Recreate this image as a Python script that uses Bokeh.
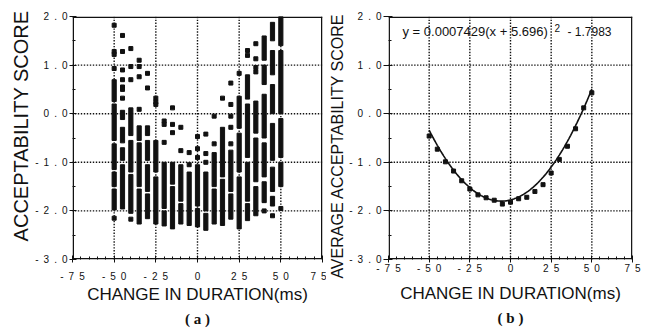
import numpy as np
from bokeh.plotting import figure
from bokeh.layouts import row
from bokeh.models import Range1d, SingleIntervalTicker, FixedTicker, LinearAxis, Label
from bokeh.embed import file_html
from bokeh.resources import INLINE

# ---------------- axes ----------------
x_lim = (-75, 75)
y_lim = (-3, 2)
x_grid = [-50, -25, 0, 25, 50]
y_grid = [-2, -1, 0, 1]

# ---------------- data (a): individual acceptability scores ----------------
# isolated points
pts_x = ([-50]*5 + [-45]*7 + [-40]*4 + [-35]*4 + [-30]*2 + [-25]*3 + [-20]*3 + [-15]*3 +
         [-10]*2 + [-5]*2 + [0]*3 + [5]*3 + [10]*2 + [15]*1 + [20]*5 + [25]*1 + [30]*2 +
         [35]*4 + [40]*1 + [45]*1 + [50]*1)
pts_y = ([1.82, 1.28, 1.22, 0.93, -2.15] +
         [1.61, 1.28, 0.90, 0.70, 0.55, 0.50, 0.32] +
         [1.34, 0.97, 0.70, -2.17] +
         [1.10, 0.97, 0.76, 0.09] +
         [0.83, 0.53] +
         [0.32, 0.24, 0.19] +
         [-0.15, -0.22, -0.59] +
         [0.12, -0.22, -0.39] +
         [-0.28, -0.76] +
         [-0.80, -1.05] +
         [-0.47, -0.72, -0.90] +
         [-0.42, -0.82, -1.00] +
         [-0.05, -0.62] +
         [0.32] +
         [0.63, 0.19, -0.05, -0.28, -0.62] +
         [0.83] +
         [1.30, 1.20] +
         [1.44, 1.13, 0.95, 0.86] +
         [-2.00] +
         [-2.10] +
         [-1.95])
# dense stacks of points (runs of scores)
run_x = ([-50]*5 + [-45]*4 + [-40]*3 + [-35]*3 + [-30]*4 + [-25]*2 + [-20]*2 + [-15]*2 +
         [-10]*2 + [-5]*1 + [0]*2 + [5]*2 + [10]*2 + [15]*2 + [20]*2 + [25]*3 + [30]*4 +
         [35]*3 + [40]*5 + [45]*6 + [50]*4)
run_top = ([0.70, 0.20, -0.62, -1.20, -1.55] +
           [0.07, -0.28, -0.70, -1.05] +
           [0.12, -0.55, -1.25] +
           [-0.25, -0.60, -1.55] +
           [-0.25, -0.55, -1.05, -1.65] +
           [-0.55, -1.30] +
           [-1.00, -2.00] +
           [-1.00, -1.50] +
           [-1.05, -1.85] +
           [-1.20] +
           [-1.05, -1.95] +
           [-1.20, -2.05] +
           [-0.80, -1.55] +
           [-0.28, -1.35] +
           [-0.75, -1.65] +
           [0.36, -0.40, -1.30] +
           [0.80, 0.20, -1.00, -1.85] +
           [0.26, -0.50, -1.50] +
           [1.60, 1.00, 0.40, -0.60, -1.40] +
           [1.88, 1.30, 0.60, -0.20, -1.10, -1.70] +
           [2.15, 1.30, -0.10, -1.00])
run_bottom = ([0.25, -0.55, -1.15, -1.50, -1.98] +
              [-0.12, -0.60, -0.96, -1.96] +
              [-0.45, -1.20, -2.05] +
              [-0.55, -1.50, -2.27] +
              [-0.45, -0.96, -1.60, -2.16] +
              [-1.20, -2.27] +
              [-1.95, -2.31] +
              [-1.45, -2.37] +
              [-1.80, -2.27] +
              [-2.30] +
              [-1.90, -2.33] +
              [-2.00, -2.40] +
              [-1.50, -2.27] +
              [-1.30, -2.30] +
              [-1.60, -2.17] +
              [-0.30, -1.20, -2.37] +
              [0.30, -0.90, -1.80, -2.20] +
              [-0.40, -1.40, -2.10] +
              [1.10, 0.60, -0.50, -1.30, -1.83] +
              [1.50, 0.80, 0.00, -0.96, -1.60, -1.90] +
              [1.40, 0.00, -0.90, -1.50])

# ---------------- data (b): average acceptability scores ----------------
avg_x = [-50, -45, -40, -35, -30, -25, -20, -15, -10, -5, 0, 5, 10, 15, 20, 25, 30, 35, 40, 45, 50]
avg_y = [-0.46, -0.73, -0.99, -1.18, -1.38, -1.55, -1.67, -1.73, -1.78, -1.86, -1.82, -1.75,
         -1.72, -1.60, -1.46, -1.22, -0.94, -0.67, -0.31, 0.12, 0.43]
# fitted curve y = a (x - h)^2 + k, as printed on the chart
fit_a, fit_h, fit_k = 0.0007429, -5.696, -1.7983
fit_x_min, fit_x_max = -50, 50

x_ticks = {-75: "-\u20027\u20025", -50: "-\u20025\u20020", -25: "-\u20022\u20025", 0: "0",
           25: "2\u20025", 50: "5\u20020", 75: "7\u20025"}
y_ticks = {2: "2\u2002.\u20020", 1: "1\u2002.\u20020", 0: "0\u2002.\u20020",
           -1: "-\u20021\u2002.\u20020", -2: "-\u20022\u2002.\u20020", -3: "-\u20023\u2002.\u20020"}

INK = "#111111"
SANS = "Liberation Sans"
SERIF = "Liberation Serif"

# styling of the frame and the dotted grid (in data units)
FRAME_DX, FRAME_DY = 0.9, 0.03
DOT_DX, DOT_DY = 1.8, 0.06


def base_fig(width, bl, br, bt, bb, ylabel, ylabel_size, panel_tag):
    p = figure(width=width, height=333, x_range=Range1d(*x_lim), y_range=Range1d(*y_lim),
               output_backend="svg", toolbar_location=None,
               min_border_left=bl, min_border_right=br, min_border_top=bt, min_border_bottom=bb)
    p.outline_line_color = None
    p.background_fill_color = "white"
    p.border_fill_color = "white"
    xt = SingleIntervalTicker(interval=25, num_minor_ticks=5)
    yt = SingleIntervalTicker(interval=1, num_minor_ticks=2)
    p.xaxis.ticker = xt
    p.yaxis.ticker = yt
    p.xgrid.grid_line_color = None
    p.ygrid.grid_line_color = None
    for ax in (p.xaxis[0], p.yaxis[0]):
        ax.axis_line_color = None
        ax.major_tick_line_color = INK
        ax.minor_tick_line_color = INK
        ax.major_tick_in = 4
        ax.major_tick_out = 3
        ax.minor_tick_in = 3
        ax.minor_tick_out = 0
        ax.major_label_text_font = SANS
        ax.major_label_text_font_size = "10px"
        ax.major_label_text_color = INK
        ax.axis_label_text_font = SANS
        ax.axis_label_text_font_style = "normal"
        ax.axis_label_text_color = INK
    p.xaxis[0].major_label_overrides = x_ticks
    p.yaxis[0].major_label_overrides = y_ticks
    p.xaxis[0].axis_label = "CHANGE IN DURATION(ms)"
    p.xaxis[0].axis_label_text_font_size = "17px"
    p.yaxis[0].axis_label = ylabel
    p.yaxis[0].axis_label_text_font_size = ylabel_size
    p.yaxis[0].axis_label_standoff = 0
    tag = LinearAxis(ticker=FixedTicker(ticks=[]), axis_label=panel_tag,
                     axis_line_color=None, major_tick_line_color=None, minor_tick_line_color=None,
                     major_tick_out=0, major_tick_in=0, minor_tick_out=0, minor_tick_in=0,
                     major_label_standoff=0, axis_label_standoff=4,
                     axis_label_text_font=SERIF, axis_label_text_font_style="bold",
                     axis_label_text_font_size="15px", axis_label_text_color=INK)
    p.add_layout(tag, "below")

    # dotted grid (small filled dots along each grid value)
    ys_line = np.arange(y_lim[0], y_lim[1], DOT_DY)
    xs_line = np.arange(x_lim[0], x_lim[1], DOT_DX)
    dot_x = np.concatenate([np.full(len(ys_line), g) for g in x_grid] + [xs_line for _ in y_grid])
    dot_y = np.concatenate([ys_line for _ in x_grid] + [np.full(len(xs_line), g) for g in y_grid])
    p.scatter(x=dot_x, y=dot_y, marker="square", size=1.4, fill_color=INK, line_color=None)
    # frame (four thin filled strips just inside the plot area)
    p.quad(left=[x_lim[0], x_lim[1] - FRAME_DX, x_lim[0], x_lim[0]],
           right=[x_lim[0] + FRAME_DX, x_lim[1], x_lim[1], x_lim[1]],
           bottom=[y_lim[0], y_lim[0], y_lim[1] - FRAME_DY, y_lim[0]],
           top=[y_lim[1], y_lim[1], y_lim[1], y_lim[0] + FRAME_DY],
           fill_color=INK, line_color=None)
    return p


# ---------- panel (a) ----------
pa = base_fig(326, 72, 4, 14, 74, "\u2002\u2002\u2009ACCEPTABILITY SCORE", "20px", "( a )")
pa.xaxis[0].major_label_standoff = 8
pa.xaxis[0].axis_label_standoff = 0
pa.yaxis[0].major_label_standoff = 2
pa.vbar(x=run_x, top=run_top, bottom=run_bottom, width=2.5, color=INK)
pa.scatter(x=pts_x, y=pts_y, marker="square", size=4, color=INK)

# ---------- panel (b) ----------
pb = base_fig(323, 62, 17, 16, 73, "AVERAGE ACCEPTABILITY SCORE\u2002\u2002", "16px", "( b )")
pb.xaxis[0].major_label_standoff = 0
pb.xaxis[0].axis_label_standoff = 7
pb.yaxis[0].major_tick_out = 5
pb.yaxis[0].major_label_standoff = 2
fx = np.linspace(fit_x_min, fit_x_max, 101)
fy = fit_a * (fx - fit_h) ** 2 + fit_k
pb.line(fx, fy, line_color=INK, line_width=1.6)
pb.scatter(x=avg_x, y=avg_y, marker="square", size=4, color=INK)
pb.add_layout(Label(x=14, y=228, x_units="screen", y_units="screen",
                    text="y = 0.0007429(x + 5.696)", text_font=SANS, text_font_size="13px",
                    text_baseline="alphabetic", text_color=INK))
pb.add_layout(Label(x=166, y=232, x_units="screen", y_units="screen",
                    text="2", text_font=SANS, text_font_size="10px",
                    text_baseline="alphabetic", text_color=INK))
pb.add_layout(Label(x=179, y=228, x_units="screen", y_units="screen",
                    text="- 1.7983", text_font=SANS, text_font_size="12px",
                    text_baseline="alphabetic", text_color=INK))

layout = row(pa, pb)
open("out.html", "w").write(file_html(layout, INLINE))
